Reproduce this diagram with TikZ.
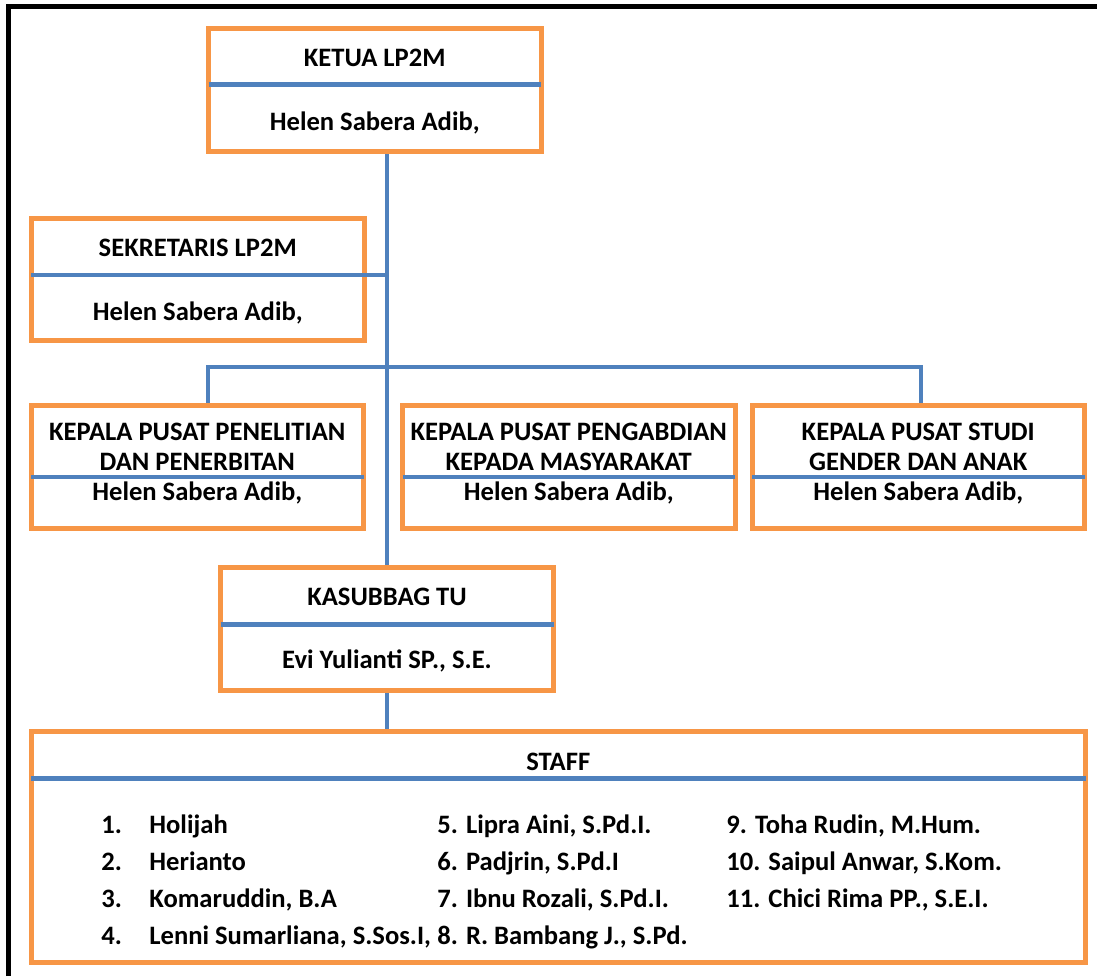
\documentclass[tikz,border=0pt]{standalone}
\usepackage{fontspec}
\setmainfont{Carlito}
\definecolor{borange}{RGB}{247,150,70}
\definecolor{bblue}{RGB}{79,129,189}
\tikzset{orgchart/.style={x=0.5pt,y=-0.5pt,font=\fontsize{13.3}{15}\selectfont\bfseries},
  unit/.style 2 args={draw=borange,line width=2.5pt,minimum width=#1,minimum height=#2,inner sep=0pt},
  link/.style={draw=bblue,line width=2.3pt},
  divide/.style={link,shorten <=1.25pt,shorten >=1.25pt},
  lbl/.style={anchor=base,inner sep=0pt,align=center},
  item/.style={anchor=base west,inner sep=0pt}}

\begin{document}
\begin{tikzpicture}[orgchart]
    \fill[white] (0,0) rectangle (1097,976);
    \useasboundingbox (0,0) rectangle (1097,976);
    \draw[line width=2.5pt] (8.5,976) -- (8.5,6) -- (1097,6);   % frame
    % boxes
    \node[unit={166.25pt}{61.5pt}] (ketua) at (374.75,90) {};
    \node[unit={166.75pt}{61pt}]   (sekr)  at (197.75,279.5) {};
    \node[unit={166.25pt}{61.5pt}] (kp1)   at (197.25,466.5) {};
    \node[unit={166.25pt}{61.5pt}] (kp2)   at (568.75,466.5) {};
    \node[unit={166.25pt}{61.5pt}] (kp3)   at (918.25,466.5) {};
    \node[unit={166.5pt}{61.25pt}] (kasub) at (387,628.75) {};
    \node[unit={527.25pt}{115.15pt}] (staff) at (558.25,846.85) {};
    % connectors
    \coordinate (bl) at (208,367);
    \coordinate (br) at (921,367);
    \draw[link] (ketua.south -| kasub.north) -- (kasub.north);
    \draw[link] (kasub.south) -- (staff.north -| kasub.south);
    \draw[link] (kp1.north -| bl) -- (bl) -- (br) -- (kp3.north -| br);
    % dividers
    \draw[divide] (ketua.west |- 0,84.7) -- (ketua.east |- 0,84.7);
    \draw[divide] (sekr.west |- 0,275) -- (kasub.north |- 0,275);
    \foreach \b in {kp1,kp2,kp3}
      \draw[divide] (\b.west |- 0,477) -- (\b.east |- 0,477);
    \draw[divide] (kasub.west |- 0,624.3) -- (kasub.east |- 0,624.3);
    \draw[divide] (staff.west |- 0,778.7) -- (staff.east |- 0,778.7);
    % texts
    \node[lbl] (ketuaT) at (ketua.center |- 0,66.7) {KETUA LP2M};
    \node[lbl] (ketuaN) at (ketua.center |- 0,130) {Helen Sabera Adib,};
    \node[lbl] (sekrT) at (sekr.center |- 0,256.7) {SEKRETARIS LP2M};
    \node[lbl] (sekrN) at (sekr.center |- 0,320) {Helen Sabera Adib,};
    \node[lbl] (kp1T) at (kp1.center |- 0,470) {KEPALA PUSAT PENELITIAN\\DAN PENERBITAN};
    \node[lbl] (kp2T) at (kp2.center |- 0,470) {KEPALA PUSAT PENGABDIAN\\KEPADA MASYARAKAT};
    \node[lbl] (kp3T) at (kp3.center |- 0,470) {KEPALA PUSAT STUDI\\GENDER DAN ANAK};
    \foreach \b in {kp1,kp2,kp3}
      \node[lbl] (\b N) at (\b.center |- 0,500) {Helen Sabera Adib,};
    \node[lbl] (kasubT) at (kasub.center |- 0,605) {KASUBBAG TU};
    \node[lbl] (kasubN) at (kasub.center |- 0,668.3) {Evi Yulianti SP., S.E.};
    \node[lbl] (staffT) at (staff.center |- 0,770) {STAFF};
    % staff list
    \node[item] (n1) at (101,833) {1.};
    \node[item] (n2) at (101,870) {2.};
    \node[item] (n3) at (101,907) {3.};
    \node[item] (n4) at (101,944) {4.};
    \node[item] (s1) at (149,833) {Holijah};
    \node[item] (s2) at (149,870) {Herianto};
    \node[item] (s3) at (149,907) {Komaruddin, B.A};
    \node[item] (s4) at (149,944) {Lenni Sumarliana, S.Sos.I,};
    \node[item] (s5) at (437,833) {5. Lipra Aini, S.Pd.I.};
    \node[item] (s6) at (437,870) {6. Padjrin, S.Pd.I};
    \node[item] (s7) at (437,907) {7. Ibnu Rozali, S.Pd.I.};
    \node[item] (s8) at (437,944) {8. R. Bambang J., S.Pd.};
    \node[item] (s9) at (726,833) {9. Toha Rudin, M.Hum.};
    \node[item] (s10) at (726,870) {10. Saipul Anwar, S.Kom.};
    \node[item] (s11) at (726,907) {11. Chici Rima PP., S.E.I.};
\end{tikzpicture}
\end{document}
